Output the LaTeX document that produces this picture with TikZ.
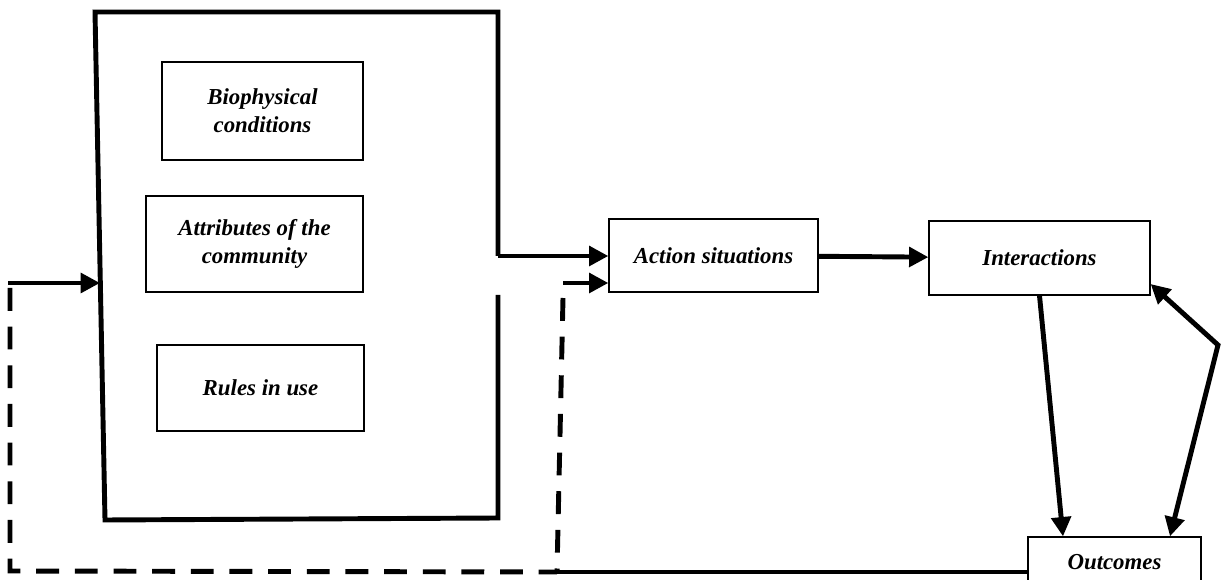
\documentclass[tikz,border=0pt]{standalone}
\usepackage{fontspec}
\setmainfont{Liberation Serif}
\usepackage{tikz}
\usetikzlibrary{positioning}
\usetikzlibrary{calc}
\usetikzlibrary{arrows.meta}

\tikzset{
  >={Triangle[length=11pt,width=11pt]},
  box/.style={draw=black,line width=0.7pt,align=center,inner sep=2pt,
    font=\fontsize{13}{16}\selectfont\bfseries\itshape},
  heavy/.style={draw=black,line width=2.8pt},
  flow/.style={heavy,->},
  feedback/.style={heavy,dash pattern=on 13pt off 9pt}
}

\begin{document}
\begin{tikzpicture}[x=0.02cm,y=-0.02cm]

\useasboundingbox (0,0) rectangle (1225,580);

%LEFT BOX
\node[box,minimum width=201*0.02cm,minimum height=98*0.02cm](bio)at(262.5,111){Biophysical\\conditions};
\node[box,minimum width=217*0.02cm,minimum height=96*0.02cm](attr)at(254.5,244){Attributes of the\\community};
\node[box,minimum width=207*0.02cm,minimum height=86*0.02cm](rules)at(260.5,388){Rules in use};

\coordinate(gapTop)at(498,256);
\coordinate(gapBot)at(498,295);
\draw[heavy,line join=miter] (gapTop) -- (498,12) -- (95,12) -- (105,520) -- (498,518) -- (gapBot);

%RIGHT
\node[box,minimum width=209*0.02cm,minimum height=73*0.02cm](action)at(713.5,255.5){Action situations};
\node[box,minimum width=221*0.02cm,minimum height=74*0.02cm](inter)at(1039.5,258){Interactions};
\node[box,minimum width=173*0.02cm,minimum height=50*0.02cm](outc)at(1114.5,562){Outcomes};

\draw[flow] (gapTop) -- (action.west |- gapTop);
\draw[flow] (action) -- (inter);
\draw[flow] (inter.south) -- (outc.north -| 1063,0);

\coordinate(turn)at(1218,345);
\draw[heavy,<->,line join=miter] (inter.east |- 0,284) -- (turn) -- (outc.north -| 1170,0);

%Feedback
\coordinate(loopL)at(10,571);
\coordinate(loopM)at(557,572);
\draw[heavy] (loopM) -- (outc.west |- 0,572);
\draw[feedback] (10,288) -- (loopL) -- (loopM);
\draw[feedback] (563,298) -- (loopM);
\draw[flow] (8,283) -- (100,283);
\draw[flow] (563,283) -- (action.west |- 0,283);

\end{tikzpicture}
\end{document}
